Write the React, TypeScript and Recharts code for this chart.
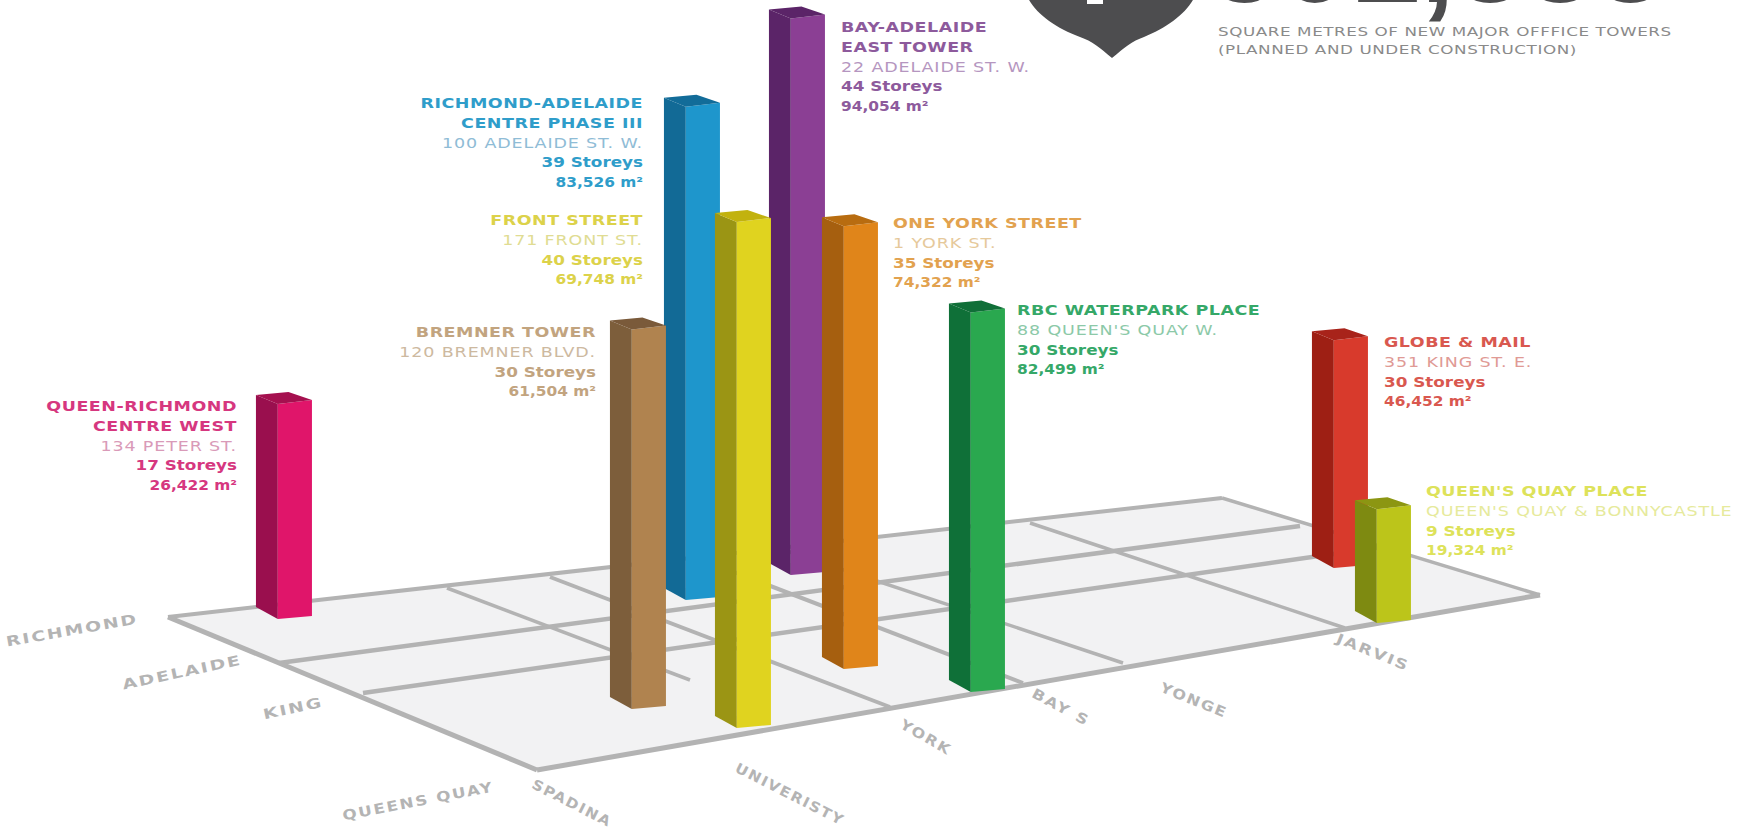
import React from "react";
import { Area, Bar, ComposedChart, Line, Scatter, XAxis, YAxis } from "recharts";

// Towers, listed back to front so nearer ones overlap farther ones.
const towerNames = [
  ["RICHMOND-ADELAIDE", "CENTRE PHASE III"],
  ["BAY-ADELAIDE", "EAST TOWER"],
  ["ONE YORK STREET"],
  ["BREMNER TOWER"],
  ["FRONT STREET"],
  ["QUEEN-RICHMOND", "CENTRE WEST"],
  ["RBC WATERPARK PLACE"],
  ["GLOBE & MAIL"],
  ["QUEEN'S QUAY PLACE"],
];
const towerAddresses = [
  "100 ADELAIDE ST. W.",
  "22 ADELAIDE ST. W.",
  "1 YORK ST.",
  "120 BREMNER BLVD.",
  "171 FRONT ST.",
  "134 PETER ST.",
  "88 QUEEN'S QUAY W.",
  "351 KING ST. E.",
  "QUEEN'S QUAY & BONNYCASTLE",
];
const storeyCaptions = [39, 44, 35, 30, 40, 17, 30, 30, 9];
const floorAreas = ["83,526", "94,054", "74,322", "61,504", "69,748", "26,422", "82,499", "46,452", "19,324"];

// Height of each extruded mark in storeys. Globe & Mail rises 18 storeys on the
// plan even though its caption prints 30.
const drawnStoreys = [39, 44, 35, 30, 40, 17, 30, 18, 9];

// Where each tower stands on the projected street plan.
const planEast = [692, 797, 850, 638, 743, 284, 977, 1340, 1383];
const planGround = [600, 575, 669, 709, 728, 619, 692, 568, 623];

const frontColors = ["#1e96cc", "#8b3f94", "#e0851a", "#b0834f", "#e0d31f", "#e0156a", "#2aa84f", "#d83a2c", "#bcc51a"];
const sideColors = ["#126a96", "#5b2468", "#a65f0f", "#7d5e3b", "#9b9514", "#9a0f4e", "#0f7038", "#9e1f14", "#7e8a11"];
const roofColors = ["#126c99", "#5b2468", "#b86c10", "#7a5a3a", "#c2b20e", "#a5104f", "#106f38", "#a8231a", "#8c9612"];
const titleColors = ["#2f9dca", "#8d5a9c", "#e2a24f", "#c2a47f", "#dcd24a", "#d6377f", "#35a868", "#d9584f", "#dde25a"];
const addressColors = ["#8fbcd6", "#b596c0", "#e6c99b", "#cdb9a0", "#e0dc93", "#d99ab8", "#8cc9a8", "#e09a95", "#e6ea9c"];

// Caption anchors: column edge and first row.
const captionEast = [643, 841, 893, 596, 643, 237, 1017, 1384, 1426];
const captionRow = [103, 27, 223, 332, 220, 406, 310, 342, 491];
const captionAnchors = ["end", "start", "start", "end", "end", "end", "start", "start", "start"];

const STOREY_RISE = 12.65;
const CAPTION_LEADING = 19.8;
const TOWER_FOOTPRINT = 56;

const towers = towerNames.map((name, i) => ({
  x: planEast[i],
  span: [planGround[i] - drawnStoreys[i] * STOREY_RISE, planGround[i]],
  index: i,
}));

const captions = towerNames.map((name, i) => ({
  x: captionEast[i],
  y: captionRow[i],
  index: i,
}));

// Street plan: the ground plate and the streets crossing it.
const groundEast = [168, 537, 1222, 1540];
const groundFar = [617, 575, 498, 595];
const groundNear = [617, 770, 650, 595];
const ground = groundEast.map((x, i) => ({ x, band: [groundFar[i], groundNear[i]] }));

const richmondSt = [{ x: 168, y: 617 }, { x: 1222, y: 498 }];
const adelaideSt = [{ x: 279, y: 663 }, { x: 1300, y: 526 }];
const kingSt = [{ x: 363, y: 693 }, { x: 1382, y: 547 }];
const queensQuay = [{ x: 537, y: 770 }, { x: 1540, y: 595 }];
const spadinaAve = [{ x: 168, y: 617 }, { x: 537, y: 770 }];
const universityAve = [{ x: 447, y: 588 }, { x: 690, y: 680 }];
const yorkSt = [{ x: 550, y: 577 }, { x: 890, y: 707 }];
const bayStreet = [{ x: 695, y: 557 }, { x: 1023, y: 683 }];
const yongeSt = [{ x: 778, y: 548 }, { x: 1123, y: 663 }];
const jarvisSt = [{ x: 1030, y: 523 }, { x: 1345, y: 628 }];
const easternEdge = [{ x: 1222, y: 498 }, { x: 1540, y: 595 }];
const streets = [
  { data: richmondSt, w: 4 },
  { data: adelaideSt, w: 4.5 },
  { data: kingSt, w: 4.5 },
  { data: universityAve, w: 3.5 },
  { data: yorkSt, w: 4 },
  { data: bayStreet, w: 4 },
  { data: yongeSt, w: 3.5 },
  { data: jarvisSt, w: 3.5 },
  { data: easternEdge, w: 3.5 },
  { data: spadinaAve, w: 5 },
  { data: queensQuay, w: 5 },
];

const streetNames = ["RICHMOND", "ADELAIDE", "KING", "QUEENS QUAY", "SPADINA", "UNIVERISTY", "YORK", "BAY S", "YONGE", "JARVIS"];
const streetLabelEast = [72, 182, 293, 418, 572, 790, 926, 1061, 1194, 1373];
const streetLabelRow = [630, 672, 708, 801, 803, 794, 737, 707, 700, 652];
const streetLabelTilt = [-10, -12, -12, -11, 27, 27, 30, 28, 22, 22];
const streetLabelStretch = [1.35, 1.35, 1.35, 1.2, 1.1, 1.1, 1.15, 1.2, 1.15, 1.25];
const streetLabels = streetNames.map((name, i) => ({
  x: streetLabelEast[i],
  y: streetLabelRow[i],
  name,
  tilt: streetLabelTilt[i],
  stretch: streetLabelStretch[i],
}));

const headlineFigure = "501,333";
const headlineNote = ["SQUARE METRES OF NEW MAJOR OFFFICE TOWERS", "(PLANNED AND UNDER CONSTRUCTION)"];
const headlineMark = [{ x: 1112, y: 58 }];
const headlineFigurePos = [{ x: 1210, y: 2 }];
const headlineNotePos = [{ x: 1218, y: 32 }];

const FONT = "'DejaVu Sans', sans-serif";

function Tower(props: any) {
  const { x, y, width, height, payload } = props;
  const i = payload.index;
  const top = Math.min(y, y + height);
  const base = Math.max(y, y + height);
  const centre = x + width / 2;
  const left = centre - TOWER_FOOTPRINT / 2;
  const right = centre + TOWER_FOOTPRINT / 2;
  const ridge = left + TOWER_FOOTPRINT * 0.39;
  const peak = left + TOWER_FOOTPRINT * 0.58;
  return (
    <g>
      <polygon
        points={`${left},${top - 9} ${ridge},${top} ${ridge},${base} ${left},${base - 12}`}
        fill={sideColors[i]}
      />
      <polygon
        points={`${ridge},${top} ${right},${top - 4} ${right},${base - 3} ${ridge},${base}`}
        fill={frontColors[i]}
      />
      <polygon
        points={`${left},${top - 9} ${peak},${top - 12} ${right},${top - 4} ${ridge},${top}`}
        fill={roofColors[i]}
      />
    </g>
  );
}

function Caption(props: any) {
  const { cx, cy, payload } = props;
  const i = payload.index;
  const rows = [
    ...towerNames[i].map((text) => ({ text, fill: titleColors[i], weight: 700, stretch: 1.25, gap: 0.4 })),
    { text: towerAddresses[i], fill: addressColors[i], weight: 400, stretch: 1.25, gap: 0.7 },
    { text: `${storeyCaptions[i]} Storeys`, fill: titleColors[i], weight: 700, stretch: 1.2, gap: 0 },
    { text: `${floorAreas[i]} m²`, fill: titleColors[i], weight: 700, stretch: 1.1, gap: 0 },
  ];
  return (
    <g>
      {rows.map((row, r) => (
        <text
          key={r}
          x={0}
          y={cy + r * CAPTION_LEADING}
          dy="0.36em"
          transform={`translate(${cx} 0) scale(${row.stretch} 1)`}
          textAnchor={captionAnchors[i] as any}
          fontFamily={FONT}
          fontSize={14}
          fontWeight={row.weight}
          letterSpacing={row.gap}
          fill={row.fill}
        >
          {row.text}
        </text>
      ))}
    </g>
  );
}

function StreetLabel(props: any) {
  const { cx, cy, payload } = props;
  return (
    <text
      x={0}
      y={0}
      dy="0.36em"
      textAnchor="middle"
      transform={`translate(${cx} ${cy}) rotate(${payload.tilt}) scale(${payload.stretch} 1)`}
      fontFamily={FONT}
      fontSize={14}
      fontWeight={700}
      letterSpacing={1.5}
      fill="#b4b4b4"
    >
      {payload.name}
    </text>
  );
}

function HeadlineMark(props: any) {
  const { cx, cy } = props;
  const d = `M ${cx} ${cy} C ${cx - 12} ${cy - 10} ${cx - 20} ${cy - 17} ${cx - 32} ${cy - 21} C ${cx - 56} ${cy - 30} ${cx - 76} ${cy - 44} ${cx - 84} ${cy - 60} L ${cx + 82} ${cy - 60} C ${cx + 74} ${cy - 44} ${cx + 54} ${cy - 30} ${cx + 32} ${cy - 21} C ${cx + 20} ${cy - 17} ${cx + 12} ${cy - 10} ${cx} ${cy} Z`;
  return (
    <g>
      <path d={d} fill="#4d4d4f" />
      <rect x={cx - 25} y={cy - 60} width={16} height={6} fill="#ffffff" />
    </g>
  );
}

function HeadlineFigure(props: any) {
  const { cx, cy } = props;
  return (
    <text x={cx} y={cy} fontFamily="'Liberation Sans', sans-serif" fontSize={126} fontWeight={700} fill="#4d4d4f">
      {headlineFigure}
    </text>
  );
}

function HeadlineNote(props: any) {
  const { cx, cy } = props;
  return (
    <g>
      {headlineNote.map((line, i) => (
        <text
          key={line}
          x={0}
          y={cy + i * 18}
          dy="0.36em"
          transform={`translate(${cx} 0) scale(1.4 1)`}
          fontFamily={FONT}
          fontSize={12}
          letterSpacing={0.4}
          fill="#8a8a8a"
        >
          {line}
        </text>
      ))}
    </g>
  );
}

export default function App() {
  return (
    <div style={{ position: "absolute", left: 0, top: 0, width: 1748, height: 827, background: "#fff" }}>
      <ComposedChart data={towers} width={1748} height={827} margin={{ top: 0, right: 0, bottom: 0, left: 0 }}>
        <XAxis type="number" dataKey="x" domain={[0, 1748]} hide allowDataOverflow />
        <YAxis type="number" domain={[0, 827]} reversed hide allowDataOverflow />
        <Area
          data={ground}
          dataKey="band"
          type="linear"
          fill="#f2f2f3"
          fillOpacity={1}
          stroke="none"
          isAnimationActive={false}
          {...({ zIndex: 10 } as any)}
        />
        {streets.map((street, i) => (
          <Line
            key={i}
            data={street.data}
            dataKey="y"
            type="linear"
            stroke="#b3b3b3"
            strokeWidth={street.w}
            dot={false}
            activeDot={false}
            isAnimationActive={false}
            {...({ zIndex: 20 } as any)}
          />
        ))}
        <Bar dataKey="span" barSize={56} shape={<Tower />} isAnimationActive={false} {...({ zIndex: 30 } as any)} />
        <Scatter data={captions} dataKey="y" shape={<Caption />} isAnimationActive={false} />
        <Scatter data={streetLabels} dataKey="y" shape={<StreetLabel />} isAnimationActive={false} />
        <Scatter data={headlineMark} dataKey="y" shape={<HeadlineMark />} isAnimationActive={false} />
        <Scatter data={headlineFigurePos} dataKey="y" shape={<HeadlineFigure />} isAnimationActive={false} />
        <Scatter data={headlineNotePos} dataKey="y" shape={<HeadlineNote />} isAnimationActive={false} />
      </ComposedChart>
    </div>
  );
}
